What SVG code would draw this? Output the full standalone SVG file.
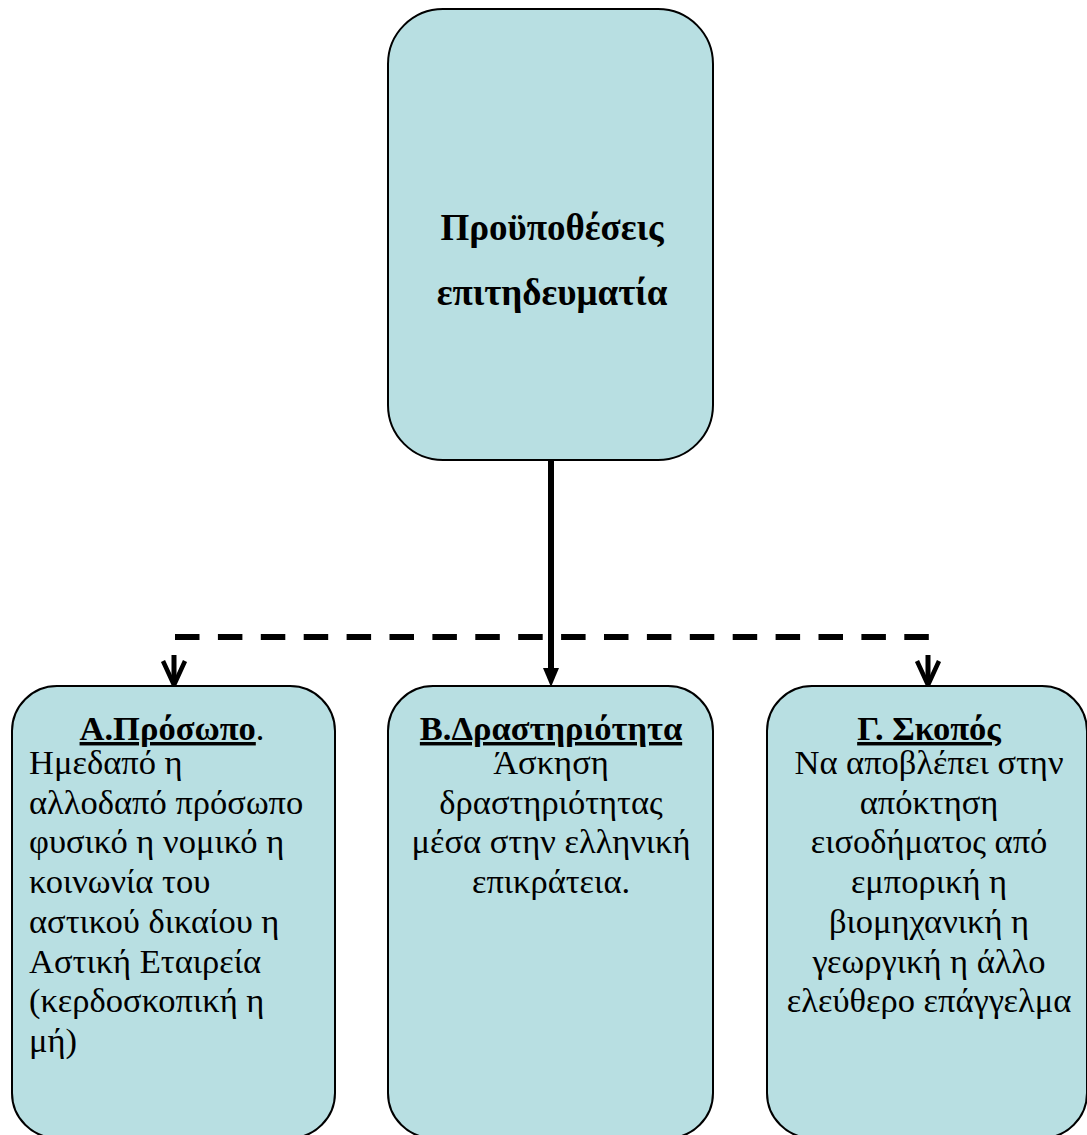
<svg xmlns="http://www.w3.org/2000/svg" width="1087" height="1135" viewBox="0 0 1087 1135">
<style>
.box{fill:#b8dfe2;stroke:#000;stroke-width:2}
.conn{stroke:#000;fill:none}
</style>
<rect width="1087" height="1135" fill="#fff"/>
<g id="connectors">
<path class="conn" d="M551,460 L551,670" stroke-width="6"/>
<polygon points="543,668 559,668 551,687" fill="#000"/>
<path class="conn" d="M175,637 L929,637" stroke-width="6" stroke-dasharray="24.5 18.4"/>
<path class="conn" d="M174,655 L174,684" stroke-width="5"/>
<path class="conn" d="M163,661 L174,685 L185,661" stroke-width="4.5"/>
<path class="conn" d="M928,655 L928,684" stroke-width="5"/>
<path class="conn" d="M917,661 L928,685 L939,661" stroke-width="4.5"/>
</g>
<g id="node-top" font-family="Liberation Serif, Times New Roman, serif" font-size="37" font-weight="bold" text-anchor="middle">
<rect class="box" x="388" y="9" width="325" height="451" rx="55" ry="55"/>
<text x="552" y="240">Προϋποθέσεις</text>
<text x="552" y="305">επιτηδευματία</text>
</g>
<g id="node-a" font-family="Liberation Serif, Times New Roman, serif" font-size="34.5">
<rect class="box" x="12" y="686" width="323" height="452" rx="45" ry="45"/>
<text x="172" y="740" text-anchor="middle"><tspan font-weight="bold" text-decoration="underline">Α.Πρόσωπο</tspan>.</text>
<text x="29" y="774">Ημεδαπό η</text>
<text x="29" y="814">αλλοδαπό πρόσωπο</text>
<text x="29" y="853">φυσικό η νομικό η</text>
<text x="29" y="893">κοινωνία του</text>
<text x="29" y="933">αστικού δικαίου η</text>
<text x="29" y="973">Αστική Εταιρεία</text>
<text x="29" y="1012">(κερδοσκοπική η</text>
<text x="29" y="1052">μή)</text>
</g>
<g id="node-b" font-family="Liberation Serif, Times New Roman, serif" font-size="34.5" text-anchor="middle">
<rect class="box" x="388" y="686" width="325" height="452" rx="45" ry="45"/>
<text x="551" y="740" font-weight="bold" text-decoration="underline">Β.Δραστηριότητα</text>
<text x="551" y="774">Άσκηση</text>
<text x="551" y="814">δραστηριότητας</text>
<text x="551" y="853">μέσα στην ελληνική</text>
<text x="551" y="893">επικράτεια.</text>
</g>
<g id="node-c" font-family="Liberation Serif, Times New Roman, serif" font-size="34.5" text-anchor="middle">
<rect class="box" x="767" y="686" width="320" height="452" rx="45" ry="45"/>
<text x="929" y="740" font-weight="bold" text-decoration="underline">Γ. Σκοπός</text>
<text x="929" y="774">Να αποβλέπει στην</text>
<text x="929" y="814">απόκτηση</text>
<text x="929" y="853">εισοδήματος από</text>
<text x="929" y="893">εμπορική η</text>
<text x="929" y="933">βιομηχανική η</text>
<text x="929" y="973">γεωργική η άλλο</text>
<text x="929" y="1012">ελεύθερο επάγγελμα</text>
</g>
</svg>
